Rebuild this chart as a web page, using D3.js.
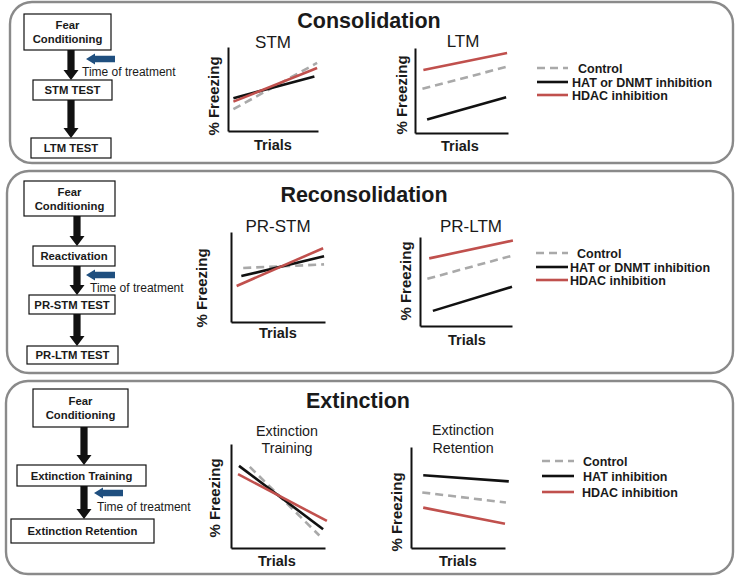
<!DOCTYPE html>
<html><head><meta charset="utf-8">
<script src="https://cdn.jsdelivr.net/npm/d3@7"></script>
<style>
body{margin:0;background:#fff}
text{font-family:"Liberation Sans",Arial,Helvetica,sans-serif;fill:#1a1a1a}
</style>
</head><body>
<svg id="c" width="739" height="577"></svg>
<script>
// ---------------- DATA ----------------
const panelTitles = ["Consolidation", "Reconsolidation", "Extinction"];
const seriesNames = ["Control", "HAT or DNMT inhibition", "HDAC inhibition"];
const seriesNamesExt = ["Control", "HAT inhibition", "HDAC inhibition"];
const chartTitles = [["STM"], ["LTM"], ["PR-STM"], ["PR-LTM"], ["Extinction", "Training"], ["Extinction", "Retention"]];
const yLabel = "% Freezing";
const xLabel = "Trials";
const treatmentLabel = "Time of treatment";
const flowSteps1 = [["Fear", "Conditioning"], ["STM TEST"], ["LTM TEST"]];
const flowSteps2 = [["Fear", "Conditioning"], ["Reactivation"], ["PR-STM TEST"], ["PR-LTM TEST"]];
const flowSteps3 = [["Fear", "Conditioning"], ["Extinction Training"], ["Extinction Retention"]];

// series as [trial, % freezing] points (schematic)
const stmControl = [[0.6, 26], [9.9, 81]];
const stmHat     = [[0.6, 39], [9.6, 65]];
const stmHdac    = [[0.6, 35], [9.9, 75]];
const ltmControl = [[0.8, 52], [9.9, 78]];
const ltmHat     = [[1.3, 16], [9.8, 42]];
const ltmHdac    = [[0.9, 74], [9.9, 94]];
const prstmControl = [[1.3, 60], [9.9, 64]];
const prstmHat     = [[1.1, 51], [9.9, 73]];
const prstmHdac    = [[0.6, 40], [9.8, 82]];
const prltmControl = [[0.8, 53], [10.0, 79]];
const prltmHat     = [[1.4, 17], [10.0, 44]];
const prltmHdac    = [[1.0, 76], [10.1, 96]];
const extTrainControl = [[2.0, 78], [9.4, 12]];
const extTrainHat     = [[0.85, 79], [9.8, 18]];
const extTrainHdac    = [[0.75, 71], [10.2, 26]];
const extRetControl = [[1.2, 55], [10.1, 45]];
const extRetHat     = [[1.3, 72], [10.4, 66]];
const extRetHdac    = [[1.3, 40], [10.0, 24]];

// ---------------- STYLE / LAYOUT ----------------
const colors = ["#a9a9a9", "#111111", "#c0504d"];
const dashes = ["8,5", null, null];
const svg = d3.select("#c");

const panels = [
  {x: 10, y: 2, w: 723, h: 161, title: panelTitles[0], tx: 369, ty: 28},
  {x: 7, y: 171, w: 726, h: 202, title: panelTitles[1], tx: 364, ty: 202},
  {x: 6, y: 381, w: 727, h: 193, title: panelTitles[2], tx: 358, ty: 408}
];
panels.forEach(p => {
  svg.append("rect").attr("x", p.x).attr("y", p.y).attr("width", p.w).attr("height", p.h)
    .attr("rx", 22).attr("ry", 22).attr("fill", "none").attr("stroke", "#8a8a8a").attr("stroke-width", 2.4);
  svg.append("text").attr("x", p.tx).attr("y", p.ty).attr("text-anchor", "middle")
    .attr("font-size", 21.5).attr("font-weight", "bold").text(p.title);
});

// ---------------- FLOWCHARTS ----------------
const flows = [
  {steps: flowSteps1, ax: 71, boxes: [[24, 111, 14, 50], [33, 112, 80, 100], [31, 111, 138, 158]],
   blue: {x: 86, y: 59, len: 29}, tt: {x: 82, y: 76}},
  {steps: flowSteps2, ax: 77, boxes: [[24, 115, 181, 216], [33, 115, 246, 266], [29, 115, 295, 314], [27, 118, 346, 364]],
   blue: {x: 86, y: 275, len: 29}, tt: {x: 90, y: 292}},
  {steps: flowSteps3, ax: 84, boxes: [[33, 128, 389, 427], [17, 146, 465, 486], [11, 154, 519, 543]],
   blue: {x: 94, y: 493, len: 29}, tt: {x: 97, y: 511}}
];

function blackArrow(x, y1, y2) {
  const sw = 3.6, hw = 7.5, hl = 10;
  const pts = [[x - sw, y1], [x + sw, y1], [x + sw, y2 - hl], [x + hw, y2 - hl], [x, y2], [x - hw, y2 - hl], [x - sw, y2 - hl]];
  svg.append("path").attr("d", d3.line()(pts) + "Z").attr("fill", "#111");
}
function blueArrow(x, y, len) {
  const bh = 3.3, hh = 5.5, hl = 9;
  const pts = [[x, y], [x + hl, y - hh], [x + hl, y - bh], [x + len, y - bh], [x + len, y + bh], [x + hl, y + bh], [x + hl, y + hh]];
  svg.append("path").attr("d", d3.line()(pts) + "Z").attr("fill", "#1f4f7f");
}

flows.forEach(f => {
  f.boxes.forEach((b, i) => {
    svg.append("rect").attr("x", b[0]).attr("y", b[2]).attr("width", b[1] - b[0]).attr("height", b[3] - b[2])
      .attr("fill", "#fff").attr("stroke", "#111").attr("stroke-width", 1.2);
    const lines = f.steps[i];
    const cx = (b[0] + b[1]) / 2;
    const cy = (b[2] + b[3]) / 2;
    lines.forEach((t, j) => {
      svg.append("text").attr("x", cx).attr("y", cy + 4 + (j - (lines.length - 1) / 2) * 14)
        .attr("text-anchor", "middle").attr("font-size", 11.3).attr("font-weight", "bold").text(t);
    });
    if (i < f.boxes.length - 1) blackArrow(f.ax, b[3], f.boxes[i + 1][2]);
  });
  blueArrow(f.blue.x, f.blue.y, f.blue.len);
  svg.append("text").attr("x", f.tt.x).attr("y", f.tt.y).attr("font-size", 12).attr("fill", "#222").text(treatmentLabel);
});

// ---------------- CHARTS ----------------
const charts = [
  {x0: 228, x1: 318, yT: 47, yB: 131, title: chartTitles[0], tX: 273, tY: [48], tS: 17,
   lX: 219, lY: 96, trX: 273, trY: 150, data: [stmControl, stmHat, stmHdac]},
  {x0: 415, x1: 508, yT: 48, yB: 133, title: chartTitles[1], tX: 463, tY: [47], tS: 17,
   lX: 407, lY: 95, trX: 460, trY: 151, data: [ltmControl, ltmHat, ltmHdac]},
  {x0: 231, x1: 325, yT: 232, yB: 322, title: chartTitles[2], tX: 278, tY: [232], tS: 17,
   lX: 207, lY: 288, trX: 278, trY: 338, data: [prstmControl, prstmHat, prstmHdac]},
  {x0: 420, x1: 512, yT: 237, yB: 326, title: chartTitles[3], tX: 471, tY: [232], tS: 17,
   lX: 411, lY: 281, trX: 467, trY: 345, data: [prltmControl, prltmHat, prltmHdac]},
  {x0: 231, x1: 325, yT: 444, yB: 548, title: chartTitles[4], tX: 287, tY: [436, 453], tS: 14.3,
   lX: 220, lY: 498, trX: 277, trY: 566, data: [extTrainControl, extTrainHat, extTrainHdac]},
  {x0: 411, x1: 505, yT: 447, yB: 548, title: chartTitles[5], tX: 463, tY: [435, 453], tS: 14.3,
   lX: 402, lY: 512, trX: 458, trY: 566, data: [extRetControl, extRetHat, extRetHdac]}
];

charts.forEach(c => {
  const x = d3.scaleLinear().domain([0, 10]).range([c.x0, c.x1]);
  const y = d3.scaleLinear().domain([0, 100]).range([c.yB, c.yT]);
  const g = svg.append("g");
  const xa = g.append("g").attr("transform", `translate(0,${c.yB})`)
    .call(d3.axisBottom(x).tickValues([]).tickSizeOuter(0));
  const ya = g.append("g").attr("transform", `translate(${c.x0},0)`)
    .call(d3.axisLeft(y).tickValues([]).tickSizeOuter(0));
  [xa, ya].forEach(a => a.select(".domain").attr("stroke", "#111").attr("stroke-width", 2));

  const line = d3.line().x(d => x(d[0])).y(d => y(d[1]));
  c.data.forEach((s, i) => {
    g.append("path").attr("d", line(s)).attr("fill", "none").attr("stroke", colors[i])
      .attr("stroke-width", 2.6).attr("stroke-dasharray", dashes[i]);
  });
  c.title.forEach((t, j) => {
    g.append("text").attr("x", c.tX).attr("y", c.tY[j]).attr("text-anchor", "middle")
      .attr("font-size", c.tS).attr("fill", "#222").text(t);
  });
  g.append("text").attr("transform", `translate(${c.lX},${c.lY}) rotate(-90)`).attr("text-anchor", "middle")
    .attr("font-size", 15).attr("font-weight", "bold").text(yLabel);
  g.append("text").attr("x", c.trX).attr("y", c.trY).attr("text-anchor", "middle")
    .attr("font-size", 14.5).attr("font-weight", "bold").text(xLabel);
});

// ---------------- LEGENDS ----------------
const legends = [
  {x1: 537, x2: 568, ys: [68, 82, 95], tx: [578, 572, 572], names: seriesNames},
  {x1: 536, x2: 568, ys: [253, 267, 280], tx: [577, 570, 570], names: seriesNames},
  {x1: 542, x2: 574, ys: [461, 476, 492], tx: [583, 583, 582], names: seriesNamesExt}
];
legends.forEach(L => {
  L.names.forEach((n, i) => {
    svg.append("line").attr("x1", L.x1).attr("x2", L.x2).attr("y1", L.ys[i]).attr("y2", L.ys[i])
      .attr("stroke", colors[i]).attr("stroke-width", 2.6).attr("stroke-dasharray", dashes[i]);
    svg.append("text").attr("x", L.tx[i]).attr("y", L.ys[i] + 4.5).attr("font-size", 12.5)
      .attr("font-weight", "bold").text(n);
  });
});
</script>
</body></html>
